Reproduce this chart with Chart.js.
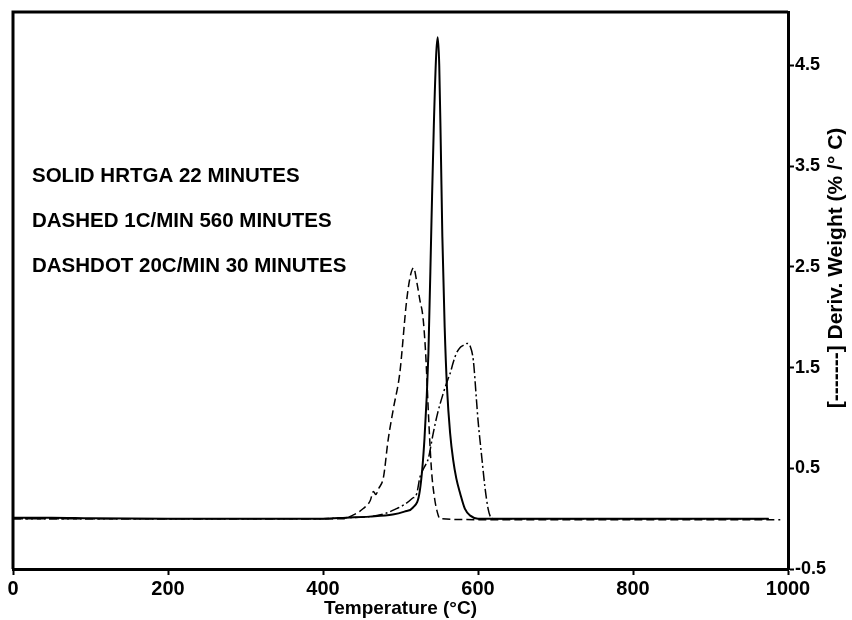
<!DOCTYPE html>
<html>
<head>
<meta charset="utf-8">
<script src="https://cdn.jsdelivr.net/npm/chart.js@4.4.1/dist/chart.umd.min.js"></script>
<style>
  body { margin: 0; background: #fff; }
  canvas { display: block; }
</style>
</head>
<body>
<canvas id="dtgChart" width="852" height="620"></canvas>
<script>
// temperatures (C) and derivative weight values
const solidTemp = [0, 50, 100, 200, 300, 400, 430, 460, 490, 505, 516, 525, 531, 536, 540, 543, 546, 548, 550, 552, 554, 557, 560, 564, 568, 572, 577, 583, 590, 600, 700, 800, 900, 975];
const solidDeriv = [0.01, 0.01, 0.005, 0, 0, 0, 0.01, 0.02, 0.04, 0.07, 0.11, 0.28, 0.8, 1.64, 2.96, 3.9, 4.6, 4.78, 4.5, 3.7, 2.8, 1.9, 1.3, 0.85, 0.58, 0.4, 0.25, 0.1, 0.03, 0, 0, 0, 0, 0];

const dashedTemp = [0, 100, 200, 300, 400, 426, 440, 452, 461, 465, 468, 472, 478, 484, 491, 499, 508, 513, 517, 521, 525, 529, 532, 534, 536, 540, 544, 547, 551, 600, 700, 800, 900, 990];
const dashedDeriv = [0, 0, 0, 0, 0, 0, 0.04, 0.1, 0.18, 0.27, 0.24, 0.3, 0.41, 0.78, 1.1, 1.44, 2.17, 2.42, 2.49, 2.35, 2.17, 2.0, 1.7, 1.4, 1.05, 0.48, 0.2, 0.08, 0, -0.01, -0.01, -0.01, -0.01, -0.01];

const dashdotTemp = [0, 100, 200, 300, 400, 430, 460, 480, 495, 505, 515, 521, 525, 530, 536, 542, 548, 555, 561, 564, 568, 572, 577, 581, 586, 590, 594, 598, 600, 605, 609, 613, 616, 620, 700, 800, 900, 975];
const dashdotDeriv = [0, 0, 0, 0, 0, 0.01, 0.02, 0.05, 0.1, 0.14, 0.2, 0.25, 0.41, 0.5, 0.6, 0.84, 1.05, 1.24, 1.38, 1.44, 1.55, 1.64, 1.7, 1.72, 1.74, 1.71, 1.57, 1.18, 0.98, 0.6, 0.31, 0.1, 0.02, 0, 0, 0, 0, 0];

const yTicks = [-0.5, 0.5, 1.5, 2.5, 3.5, 4.5];
const notes = ['SOLID HRTGA 22 MINUTES', 'DASHED 1C/MIN 560 MINUTES', 'DASHDOT 20C/MIN 30 MINUTES'];

function pairs(xs, ys) {
    return xs.map((x, i) => ({x: x, y: ys[i]}));
}

// box lines, notes and the rotated right axis title
const extras = {
    id: 'extras',
    afterDraw(chart) {
        const c = chart.ctx;
        const a = chart.chartArea;
        c.save();
        c.strokeStyle = 'black';
        c.lineWidth = 3;
        c.beginPath();
        c.moveTo(a.left, a.bottom);
        c.lineTo(a.left, a.top);
        c.lineTo(a.right, a.top);
        c.stroke();

        c.fillStyle = 'black';
        c.font = 'bold 20.5px "Liberation Sans", Arial, sans-serif';
        c.textBaseline = 'middle';
        notes.forEach((t, i) => {
            c.fillText(t, a.left + 19, 176 + i * 45);
        });

        c.translate(836, 268);
        c.rotate(-Math.PI / 2);
        c.textAlign = 'center';
        c.font = 'bold 21px "Liberation Sans", Arial, sans-serif';
        c.fillText('[-------] Deriv. Weight (% /\u00B0 C)', 0, 0);
        c.restore();
    }
};

const ctx = document.getElementById('dtgChart').getContext('2d');

const dtgChart = new Chart(ctx, {
    type: 'line',
    data: {
        datasets: [{
            label: 'HRTGA',
            data: pairs(solidTemp, solidDeriv),
            borderColor: 'black',
            borderWidth: 2,
            pointRadius: 0,
            cubicInterpolationMode: 'monotone',
        },{
            label: '1C/min',
            data: pairs(dashedTemp, dashedDeriv),
            borderColor: 'black',
            borderWidth: 1.5,
            borderDash: [8, 4],
            pointRadius: 0,
            cubicInterpolationMode: 'monotone',
        },{
            label: '20C/min',
            data: pairs(dashdotTemp, dashdotDeriv),
            borderColor: 'black',
            borderWidth: 1.5,
            borderDash: [10, 3, 2, 3],
            pointRadius: 0,
            cubicInterpolationMode: 'monotone',
        }]
    },
    options: {
        responsive: false,
        animation: false,
        layout: {
            padding: {left: 13, top: 12, right: 0, bottom: 0}
        },
        plugins: {
            legend: {display: false},
            tooltip: {enabled: false}
        },
        scales: {
            x: {
                type: 'linear',
                min: 0,
                max: 1000,
                ticks: {
                    stepSize: 200,
                    color: 'black',
                    padding: 2,
                    maxRotation: 0,
                    callback: (v) => String(v),
                    font: {size: 20, weight: 'bold', family: '"Liberation Sans", Arial'}
                },
                grid: {drawOnChartArea: false, tickLength: 6, tickWidth: 2, tickColor: 'black'},
                border: {width: 3, color: 'black'},
                title: {
                    display: true,
                    text: 'Temperature (\u00B0C)',
                    color: 'black',
                    padding: 0,
                    font: {size: 19, weight: 'bold', family: '"Liberation Sans", Arial'}
                },
                afterFit: (s) => { s.height = 51; }
            },
            y: {
                position: 'right',
                min: -0.5,
                max: 5.03,
                afterBuildTicks: (s) => { s.ticks = yTicks.map(v => ({value: v})); },
                ticks: {
                    color: 'black',
                    padding: 1,
                    font: {size: 18, weight: 'bold', family: '"Liberation Sans", Arial'}
                },
                grid: {drawOnChartArea: false, tickLength: 6, tickWidth: 2, tickColor: 'black'},
                border: {width: 3, color: 'black'},
                afterFit: (s) => { s.width = 64; }
            }
        }
    },
    plugins: [extras]
});
</script>
</body>
</html>
